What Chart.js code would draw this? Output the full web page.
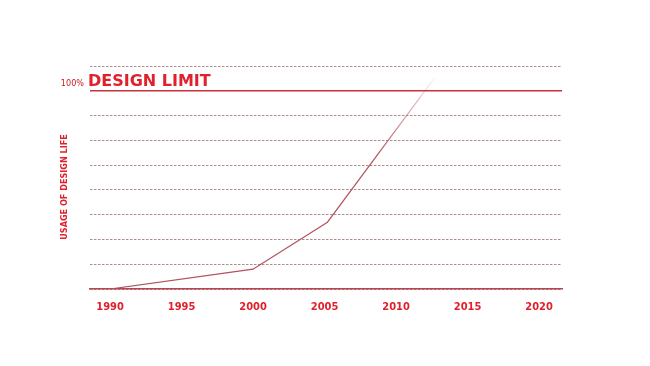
<!DOCTYPE html>
<html>
<head>
<meta charset="utf-8">
<script src="https://cdn.jsdelivr.net/npm/chart.js@4/dist/chart.umd.min.js"></script>
<style>
    html, body { margin: 0; padding: 0; background: #ffffff; }
    #wrap { width: 650px; height: 366px; position: relative; }
</style>
</head>
<body>
<div id="wrap"><canvas id="grafico"></canvas></div>
<script>
"use strict";

// datos
const anios = [1990, 2000, 2005.2, 2012.7];
const uso = [0, 10, 33.7, 106.6];
const ticksAnios = [1990, 1995, 2000, 2005, 2010, 2015, 2020];
const limiteDiseno = 100;
const tituloEje = "USAGE OF DESIGN LIFE";
const etiquetaLimite = "DESIGN LIMIT";
const etiquetaPct = "100%";

const ROJO = "#e0202c";
const FUENTE = "'DejaVu Sans Condensed', 'DejaVu Sans', sans-serif";

const puntos = anios.map(function (a, i) { return { x: a, y: uso[i] }; });

// linea solida del limite y textos
const pluginLimite = {
    id: "limite",
    afterDatasetsDraw: function (chart) {
        const ctx = chart.ctx;
        const area = chart.chartArea;
        const y = chart.scales.y.getPixelForValue(limiteDiseno);

        ctx.save();
        ctx.strokeStyle = "#c8303e";
        ctx.lineWidth = 1.5;
        ctx.beginPath();
        ctx.moveTo(area.left, y);
        ctx.lineTo(area.right, y);
        ctx.stroke();

        ctx.fillStyle = ROJO;
        ctx.textBaseline = "alphabetic";
        ctx.textAlign = "left";
        ctx.font = "bold 16px 'DejaVu Sans', sans-serif";
        ctx.fillText(etiquetaLimite, area.left - 2, y - 5);

        ctx.fillStyle = "#c8202a";
        ctx.textAlign = "right";
        ctx.font = "9px " + FUENTE;
        ctx.fillText(etiquetaPct, area.left - 6, y - 5);

        ctx.fillStyle = ROJO;
        ctx.font = "bold 9px " + FUENTE;
        ctx.textAlign = "center";
        ctx.textBaseline = "middle";
        ctx.translate(65, 187);
        ctx.rotate(-Math.PI / 2);
        ctx.fillText(tituloEje, 0, 0);
        ctx.restore();
    }
};

function colorLinea(context) {
    const chart = context.chart;
    const area = chart.chartArea;
    if (!area) return "#b0505a";
    const g = chart.ctx.createLinearGradient(0, area.bottom, 0, area.top);
    g.addColorStop(0, "rgba(176,80,92,1)");
    g.addColorStop(0.6, "rgba(176,80,92,0.95)");
    g.addColorStop(0.85, "rgba(190,110,120,0.45)");
    g.addColorStop(0.95, "rgba(220,180,185,0.15)");
    g.addColorStop(1, "rgba(230,200,205,0.05)");
    return g;
}

new Chart(document.getElementById("grafico"), {
    type: "line",
    data: {
        datasets: [{
            data: puntos,
            borderColor: colorLinea,
            borderWidth: 1.2,
            pointRadius: 0,
            tension: 0,
            fill: false
        }]
    },
    options: {
        responsive: true,
        maintainAspectRatio: false,
        animation: false,
        events: [],
        layout: {
            padding: { left: 90, right: 88, top: 66, bottom: 37 }
        },
        plugins: {
            legend: { display: false },
            tooltip: { enabled: false }
        },
        scales: {
            x: {
                type: "linear",
                min: 1988.6,
                max: 2021.6,
                afterBuildTicks: function (axis) {
                    axis.ticks = ticksAnios.map(function (v) { return { value: v }; });
                },
                afterFit: function (axis) { axis.height = 40; },
                grid: { display: false, drawTicks: false },
                border: { display: true, color: "#b84452", width: 1.5 },
                ticks: {
                    padding: 12,
                    color: ROJO,
                    font: { family: FUENTE, size: 11, weight: "bold" },
                    callback: function (v) { return String(v); }
                }
            },
            y: {
                min: 0,
                max: 112.5,
                afterFit: function (axis) { axis.width = 0; },
                ticks: { display: false, stepSize: 12.5 },
                grid: {
                    drawTicks: false,
                    color: "#ad8a8a",
                    lineWidth: 1
                },
                border: { display: false, dash: [2.5, 1.5] }
            }
        }
    },
    plugins: [pluginLimite]
});
</script>
</body>
</html>
